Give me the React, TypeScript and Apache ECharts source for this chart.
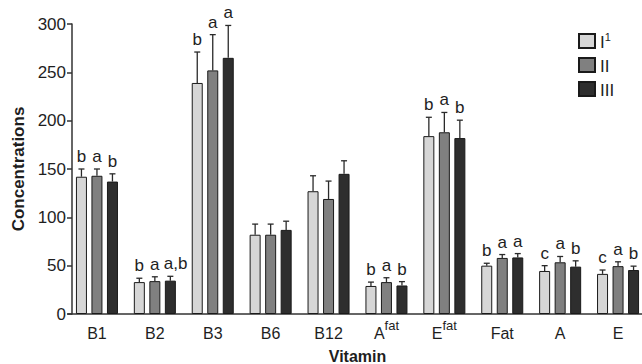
import React, { useEffect, useRef } from "react";
import * as echarts from "echarts";

const categories = ["B1", "B2", "B3", "B6", "B12", "A fat", "E fat", "Fat", "A", "E"];
const seriesNames = ["I", "II", "III"];
const meanI = [142, 33, 239, 82, 127, 29, 184, 50, 44.5, 41.5];
const meanII = [143, 34, 252, 82, 119, 33, 188, 58, 53.5, 49.5];
const meanIII = [137, 34.5, 265, 87, 145, 29.5, 182, 58.5, 49, 45.5];
const upperI = [150, 37, 271, 93, 143, 33, 203.5, 52.5, 50, 45.5];
const upperII = [150, 38.5, 289, 93, 137.5, 37.5, 208.5, 61.5, 59.5, 54];
const upperIII = [145, 39, 298.5, 96, 158.5, 33.5, 200.5, 62.5, 55, 49.5];
const lettersI = ["b", "b", "b", "", "", "b", "b", "b", "c", "c"];
const lettersII = ["a", "a", "a", "", "", "a", "a", "a", "a", "a"];
const lettersIII = ["b", "a,b", "a", "", "", "b", "b", "a", "b", "b"];

const means = [meanI, meanII, meanIII];
const uppers = [upperI, upperII, upperIII];
const letters = [lettersI, lettersII, lettersIII];
const colors = ["#d6d6d6", "#808080", "#2e2e2e"];
const offsets = [-15.5, 0, 15.5];
const FONT = "'Liberation Sans', Arial, Helvetica, sans-serif";
const TEXT = "#1e1e1e";

export default function App() {
  const ref = useRef<HTMLDivElement>(null);
  useEffect(() => {
    document.body.style.margin = "0";
    const chart = echarts.init(ref.current!, null, { renderer: "svg" });
    const barSeries = seriesNames.map((name, g) => ({
      name,
      type: "bar",
      data: means[g],
      barWidth: 11,
      barGap: "41%",
      itemStyle: { color: colors[g], borderColor: "#1a1a1a", borderWidth: 1 },
      z: 2,
    }));
    const errSeries = seriesNames.map((name, g) => ({
      name: "err" + name,
      type: "custom",
      z: 5,
      data: categories.map((_, i) => [i, means[g][i], uppers[g][i]]),
      encode: { x: 0, y: [1, 2] },
      renderItem: (params: any, api: any) => {
        const i = api.value(0);
        const p0 = api.coord([i, api.value(1)]);
        const p1 = api.coord([i, api.value(2)]);
        const x = p0[0] + offsets[g];
        const stroke = { stroke: "#2a2a2a", lineWidth: 1.3 };
        const children: any[] = [
          { type: "line", shape: { x1: x, y1: p0[1], x2: x, y2: p1[1] }, style: stroke },
          { type: "line", shape: { x1: x - 3, y1: p1[1], x2: x + 3, y2: p1[1] }, style: stroke },
        ];
        const t = letters[g][params.dataIndex];
        if (t) {
          const multi = t.length > 1;
          children.push({
            type: "text",
            x: multi ? x - 6.5 : x,
            y: p1[1] - 4,
            style: {
              text: t,
              fill: TEXT,
              font: `17px ${FONT}`,
              align: multi ? "left" : "center",
              verticalAlign: "bottom",
            },
          });
        }
        return { type: "group", children };
      },
    }));
    chart.setOption({
      animation: false,
      textStyle: { fontFamily: FONT, color: TEXT },
      grid: { left: 68, top: 24, width: 579, height: 290, containLabel: false, outerBoundsMode: "none" },
      legend: {
        data: seriesNames,
        orient: "vertical",
        left: 573,
        top: 26,
        itemWidth: 16,
        itemHeight: 14,
        itemGap: 6,
        icon: "rect",
        formatter: (n: string) => (n === "I" ? "{n|I}{s|1}" : `{n|${n}}`),
        textStyle: {
          rich: {
            n: { fontSize: 17, lineHeight: 20, fontFamily: FONT, color: TEXT, verticalAlign: "bottom" },
            s: { fontSize: 11, lineHeight: 11, fontFamily: FONT, color: TEXT, verticalAlign: "top" },
          },
        },
      },
      xAxis: {
        type: "category",
        data: categories,
        name: "Vitamin",
        nameLocation: "middle",
        nameGap: 34,
        nameTextStyle: { fontSize: 16, fontWeight: "bold", color: TEXT, fontFamily: FONT },
        axisLine: { lineStyle: { color: "#333", width: 1.5 } },
        axisTick: { alignWithLabel: true, length: 5, lineStyle: { color: "#333", width: 1.5 } },
        axisLabel: {
          interval: 0,
          margin: 5,
          formatter: (v: string) => {
            const parts = v.split(" ");
            return parts.length > 1 ? `{n|${parts[0]}}{s|${parts[1]}}` : `{n|${v}}`;
          },
          rich: {
            n: { fontSize: 16, lineHeight: 22, fontFamily: FONT, color: TEXT, verticalAlign: "bottom" },
            s: { fontSize: 13, lineHeight: 13, fontFamily: FONT, color: TEXT, verticalAlign: "top" },
          },
        },
      },
      yAxis: {
        type: "value",
        min: 0,
        max: 300,
        interval: 50,
        offset: -4,
        name: "Concentrations",
        nameLocation: "middle",
        nameGap: 45,
        nameTextStyle: { fontSize: 17, fontWeight: "bold", color: TEXT, fontFamily: FONT },
        splitLine: { show: false },
        axisLine: { show: true, lineStyle: { color: "#333", width: 1.5 } },
        axisTick: { show: true, length: 5, lineStyle: { color: "#333", width: 1.5 } },
        axisLabel: { fontSize: 17, margin: 6, color: TEXT, fontFamily: FONT },
      },
      series: [...barSeries, ...errSeries],
    });
    return () => chart.dispose();
  }, []);
  return <div ref={ref} style={{ width: 642, height: 364 }} />;
}
